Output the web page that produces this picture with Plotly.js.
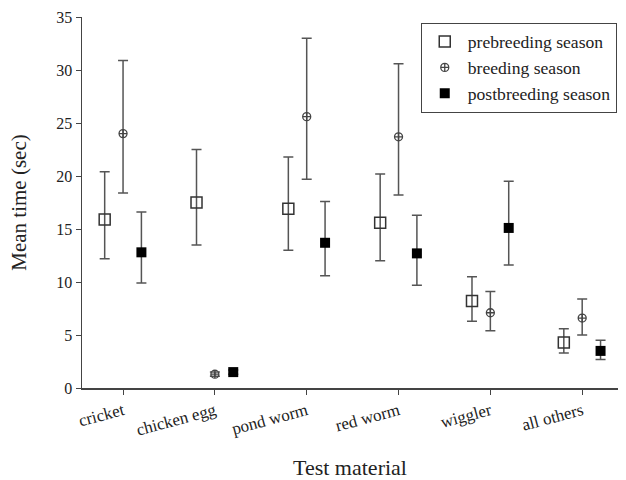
<!DOCTYPE html>
<html>
<head>
<meta charset="utf-8">
<script src="https://cdn.plot.ly/plotly-3.0.1.min.js"></script>
<style>html,body{margin:0;padding:0;background:#fff;}#chart{width:626px;height:480px;}</style>
</head>
<body>
<div id="chart"></div>
<script>
var categories = ["cricket", "chicken egg", "pond worm", "red worm", "wiggler", "all others"];
var preMean  = [15.9, 17.5, 16.9, 15.6, 8.2, 4.3];
var preUpper = [20.4, 22.5, 21.8, 20.2, 10.5, 5.6];
var preLower = [12.2, 13.5, 13.0, 12.0, 6.3, 3.3];
var brMean   = [24.0, 1.3, 25.6, 23.7, 7.1, 6.6];
var brUpper  = [30.9, 1.5, 33.0, 30.6, 9.1, 8.4];
var brLower  = [18.4, 1.1, 19.7, 18.2, 5.4, 5.0];
var postMean  = [12.8, 1.5, 13.7, 12.7, 15.1, 3.5];
var postUpper = [16.6, 1.7, 17.6, 16.3, 19.5, 4.5];
var postLower = [9.9, 1.3, 10.6, 9.7, 11.6, 2.7];
var seriesNames = ["prebreeding season", "breeding season", "postbreeding season"];

var idx = categories.map(function(c, i){ return i + 1; });
function shift(d){ return idx.map(function(v){ return v + d; }); }
function diff(a, b){ return a.map(function(v, i){ return Math.max(0, v - b[i]); }); }

function trace(name, means, up, lo, off, marker){
  return {
    type: "scatter", mode: "markers", name: name,
    x: shift(off), y: means,
    marker: marker,
    error_y: {type: "data", symmetric: false, array: diff(up, means), arrayminus: diff(means, lo),
              color: "#555", thickness: 1.5, width: 5}
  };
}

var data = [
  trace(seriesNames[0], preMean, preUpper, preLower, -0.2,
        {symbol: "square-open", size: 11, color: "#333", line: {width: 1.5, color: "#333"}}),
  trace(seriesNames[1], brMean, brUpper, brLower, 0,
        {symbol: "circle-cross-open", size: 8, color: "#444", line: {width: 1.3, color: "#444"}}),
  trace(seriesNames[2], postMean, postUpper, postLower, 0.2,
        {symbol: "square", size: 10, color: "#000", line: {width: 0}})
];

var font = "Liberation Serif, Times New Roman, serif";
var layout = {
  width: 626, height: 480,
  margin: {l: 82, r: 8, t: 17, b: 92},
  paper_bgcolor: "#fff", plot_bgcolor: "#fff",
  font: {family: font, size: 17, color: "#222"},
  showlegend: true,
  legend: {x: 0.632, y: 0.985, xanchor: "left", yanchor: "top",
           bordercolor: "#444", borderwidth: 1, bgcolor: "#fff",
           font: {family: font, size: 17.6, color: "#222"}, itemwidth: 36, tracegroupgap: 0},
  xaxis: {
    range: [0.553, 6.39], tickmode: "array", tickvals: idx, ticktext: categories,
    tickangle: -15, ticks: "outside", ticklen: 5, tickcolor: "#444",
    showline: true, linecolor: "#444", linewidth: 1.5, showgrid: false, zeroline: false,
    tickfont: {family: font, size: 17, color: "#222"},
    title: {text: "Test material", font: {family: font, size: 22, color: "#222"}, standoff: 26}
  },
  yaxis: {
    range: [0, 35], tickvals: [0, 5, 10, 15, 20, 25, 30, 35],
    ticks: "outside", ticklen: 5, tickcolor: "#444",
    showline: true, linecolor: "#444", linewidth: 1.5, showgrid: false, zeroline: false,
    tickfont: {family: font, size: 16, color: "#222"},
    title: {text: "Mean time (sec)", font: {family: font, size: 21, color: "#222"}, standoff: 24}
  }
};

Plotly.newPlot("chart", data, layout, {displayModeBar: false, staticPlot: true});
</script>
</body>
</html>
